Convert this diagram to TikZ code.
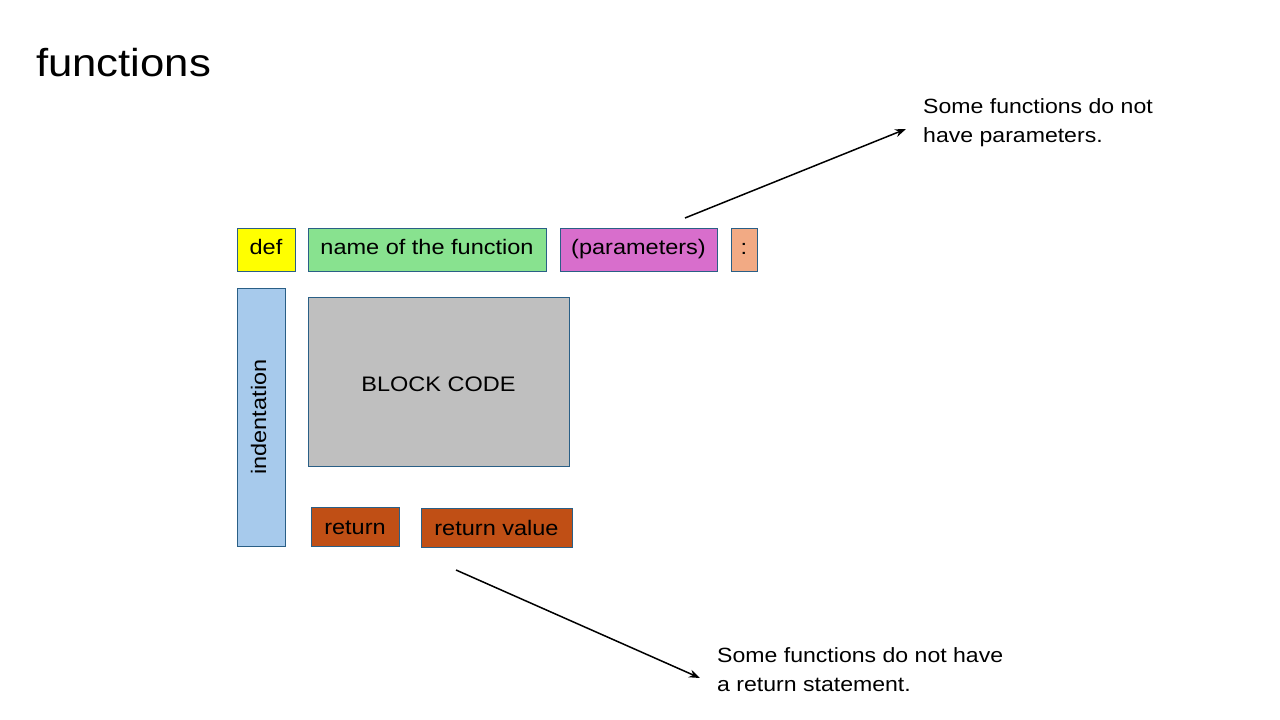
\documentclass[tikz,border=0pt]{standalone}
\usepackage{fontspec}
\setmainfont[FakeStretch=1.12]{Liberation Sans}
\usetikzlibrary{arrows.meta}
\definecolor{bordc}{HTML}{2A5F86}
\definecolor{cdef}{HTML}{FFFF00}
\definecolor{cname}{HTML}{88E28F}
\definecolor{cpar}{HTML}{D86ECC}
\definecolor{ccol}{HTML}{F2AA84}
\definecolor{cind}{HTML}{A7CAEC}
\definecolor{cblk}{HTML}{BFBFBF}
\definecolor{cret}{HTML}{C04F15}
\tikzset{
  box/.style={draw=bordc, line width=0.9pt, inner sep=0pt, text height=14pt, text depth=4pt, font=\fontsize{21}{24}\selectfont, text=black},
  note/.style={align=left, anchor=north west, inner sep=0pt, font=\fontsize{20.6}{29}\selectfont},
  arr/.style={line width=1.5pt, -{Stealth[length=11pt,width=8pt]}}
}
\begin{document}
\begin{tikzpicture}[x=1pt,y=-1pt]
\useasboundingbox (0,0) rectangle (1280,720);
\node[anchor=base west, inner sep=0pt, font=\fontsize{39}{44}\selectfont] (title) at (36,76) {functions};
\node[box, fill=cdef, minimum width=58pt, minimum height=43pt] (def) at (266,249.5) {def};
\node[box, fill=cname, minimum width=238pt, minimum height=43pt] (name) at (427,249.5) {name of the function};
\node[box, fill=cpar, minimum width=157pt, minimum height=43pt] (par) at (638.5,249.5) {(parameters)};
\node[box, fill=ccol, minimum width=26pt, minimum height=43pt] (col) at (744,249.5) {:};
\node[box, fill=cind, rotate=90, minimum width=258pt, minimum height=48pt] (ind) at (261,417) {indentation};
\node[box, fill=cblk, text height=24pt, minimum width=261pt, minimum height=169pt] (blk) at (438.5,381.5) {BLOCK CODE};
\node[box, fill=cret, text height=19pt, minimum width=88pt, minimum height=39pt] (ret) at (355,526.5) {return};
\node[box, fill=cret, text height=19pt, minimum width=151pt, minimum height=39pt] (retv) at (496.5,527.5) {return value};
\node[note] (n1) at (923,98) {Some functions do not\\have parameters.};
\node[note] (n2) at (717,647) {Some functions do not have\\a return statement.};
\coordinate (a1s) at (685,218);
\coordinate (a1e) at (906,129);
\coordinate (a2s) at (456,570);
\coordinate (a2e) at (700,678);
\draw[arr] (a1s) -- (a1e);
\draw[arr] (a2s) -- (a2e);
\end{tikzpicture}
\end{document}
